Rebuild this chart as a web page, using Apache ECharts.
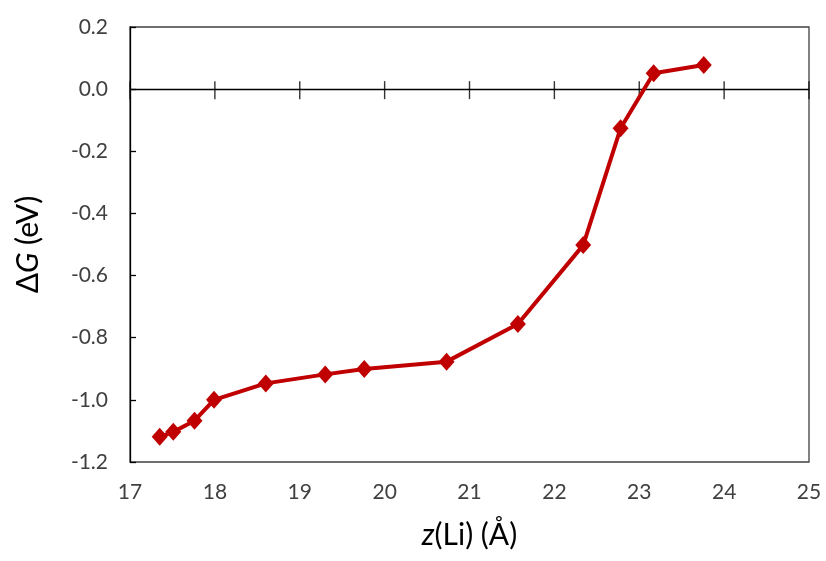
<!DOCTYPE html>
<html>
<head>
<meta charset="utf-8">
<script src="https://cdn.jsdelivr.net/npm/echarts@6/dist/echarts.min.js"></script>
<style>
html,body{margin:0;padding:0;background:#fff;}
#chart{width:826px;height:561px;}
</style>
</head>
<body>
<div id="chart"></div>
<script>
const zLi = [17.35, 17.51, 17.76, 17.99, 18.60, 19.30, 19.76, 20.73, 21.57, 22.34, 22.78, 23.17, 23.76];
const deltaG = [-1.119, -1.103, -1.067, -1.000, -0.947, -0.918, -0.901, -0.877, -0.756, -0.502, -0.126, 0.051, 0.078];
const xTicks = [17, 18, 19, 20, 21, 22, 23, 24, 25];
const yTicks = [-1.2, -1.0, -0.8, -0.6, -0.4, -0.2, 0.0, 0.2];

const FONT = 'Lato, "Open Sans", sans-serif';
const points = zLi.map((x, i) => [x, deltaG[i]]);
const zeroTicks = xTicks.map(x => [x, 0]);

const chart = echarts.init(document.getElementById('chart'), null, {renderer: 'canvas'});
chart.setOption({
  animation: false,
  backgroundColor: '#ffffff',
  grid: {left: 130, right: 17, top: 27, bottom: 99, show: true, borderColor: '#404040', borderWidth: 1.3, backgroundColor: 'transparent'},
  xAxis: {
    type: 'value',
    min: xTicks[0],
    max: xTicks[xTicks.length - 1],
    interval: 1,
    splitLine: {show: false},
    axisLine: {show: false, onZero: false},
    axisTick: {show: false},
    axisLabel: {fontFamily: FONT, fontSize: 21, color: '#404040', margin: 20},
    name: '{i|z}{n|(Li) (Å)}',
    nameLocation: 'middle',
    nameGap: 58,
    nameTextStyle: {
      rich: {
        i: {fontFamily: FONT, fontSize: 30, fontStyle: 'italic', color: '#000'},
        n: {fontFamily: FONT, fontSize: 30, color: '#000'}
      }
    }
  },
  yAxis: {
    type: 'value',
    min: yTicks[0],
    max: yTicks[yTicks.length - 1],
    interval: 0.2,
    axisLine: {show: true, onZero: false, lineStyle: {color: '#000', width: 1.3}},
    axisTick: {show: true, inside: true, length: 6, lineStyle: {color: '#000', width: 1.3}},
    splitLine: {show: false},
    axisLabel: {
      fontFamily: FONT, fontSize: 21, color: '#404040', margin: 22,
      formatter: v => v.toFixed(1)
    },
    name: '{n|Δ}{i|G}{n| (eV)}',
    nameLocation: 'middle',
    nameRotate: 90,
    nameGap: 87,
    nameTextStyle: {
      rich: {
        i: {fontFamily: FONT, fontSize: 30, fontStyle: 'italic', color: '#000'},
        n: {fontFamily: FONT, fontSize: 30, color: '#000'}
      }
    }
  },
  series: [
    {
      type: 'scatter',
      data: zeroTicks,
      symbol: 'rect',
      symbolSize: [1.4, 18],
      symbolOffset: [0, 1],
      itemStyle: {color: '#000'},
      silent: true,
      z: 2,
      markLine: {
        silent: true,
        symbol: ['none', 'none'],
        label: {show: false},
        lineStyle: {color: '#000', width: 1.3, type: 'solid'},
        data: [{yAxis: 0}]
      }
    },
    {
      type: 'line',
      data: points,
      symbol: 'diamond',
      symbolSize: [16, 18],
      lineStyle: {color: '#C00000', width: 4},
      itemStyle: {color: '#C00000'},
      z: 5
    }
  ]
});
</script>
</body>
</html>
